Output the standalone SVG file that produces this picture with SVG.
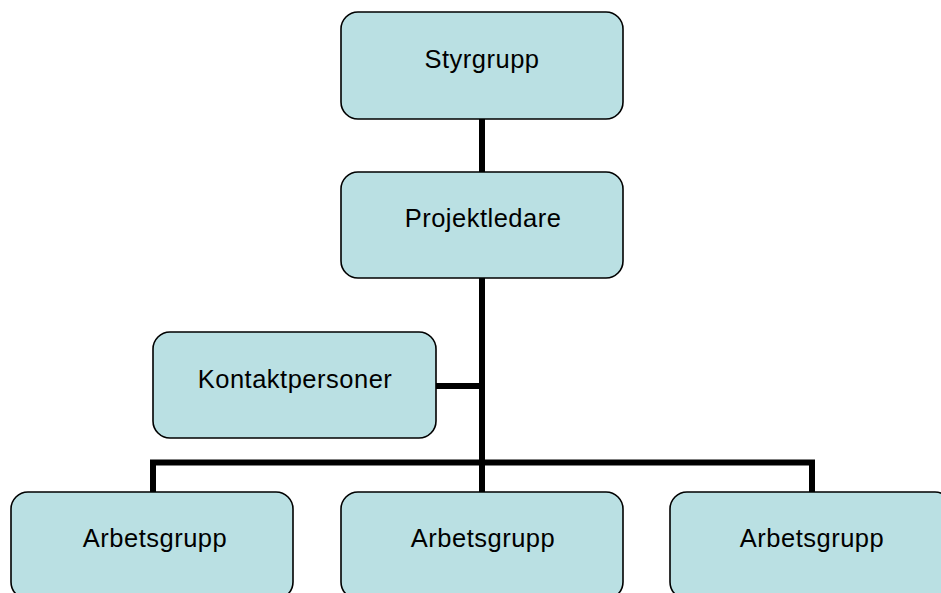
<svg xmlns="http://www.w3.org/2000/svg" width="941" height="593" viewBox="0 0 941 593">
<style>
.box{fill:#BAE0E3;stroke:#000;stroke-width:1.6}
.lbl{font-family:"Liberation Sans",Arial,sans-serif;font-size:25.5px;letter-spacing:0.5px;fill:#000;text-anchor:middle}
.conn{fill:none;stroke:#000;stroke-width:6;stroke-linecap:butt;stroke-linejoin:miter}
</style>
<rect width="941" height="593" fill="#fff"/>
<g id="connectors">
<line class="conn" x1="482" y1="119" x2="482" y2="172"/>
<line class="conn" x1="482" y1="278" x2="482" y2="492"/>
<line class="conn" x1="436" y1="386" x2="482" y2="386"/>
<polyline class="conn" points="153,492 153,462.5 812,462.5 812,492"/>
</g>
<g id="styrgrupp">
<rect class="box" x="341" y="12" width="282" height="107" rx="17"/>
<text class="lbl" x="482" y="68">Styrgrupp</text>
</g>
<g id="projektledare">
<rect class="box" x="341" y="172" width="282" height="106" rx="17"/>
<text class="lbl" x="483" y="227">Projektledare</text>
</g>
<g id="kontaktpersoner">
<rect class="box" x="153" y="332" width="283" height="106" rx="17"/>
<text class="lbl" x="295" y="388">Kontaktpersoner</text>
</g>
<g id="arbetsgrupp1">
<rect class="box" x="11" y="492" width="282" height="107" rx="17"/>
<text class="lbl" x="155" y="547">Arbetsgrupp</text>
</g>
<g id="arbetsgrupp2">
<rect class="box" x="341" y="492" width="282" height="107" rx="17"/>
<text class="lbl" x="483" y="547">Arbetsgrupp</text>
</g>
<g id="arbetsgrupp3">
<rect class="box" x="670" y="492" width="282" height="107" rx="17"/>
<text class="lbl" x="812" y="547">Arbetsgrupp</text>
</g>
</svg>
